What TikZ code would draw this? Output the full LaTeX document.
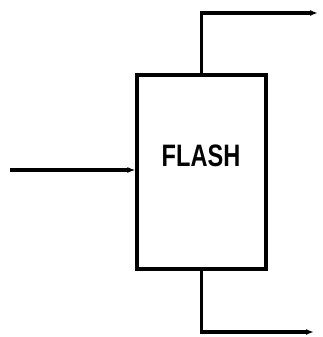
\documentclass[tikz,border=0pt]{standalone}
\usepackage{fontspec}
\setmainfont{Liberation Sans}
\usetikzlibrary{shapes,arrows.meta,positioning,calc}

\begin{document}
\begin{tikzpicture}[x=1pt,y=-1pt,line width=3.2pt,
	unit/.style={draw,rectangle,minimum width=129pt,minimum height=194pt,inner sep=0pt},
	stream/.style={-{Latex[length=8pt,width=6pt]},line width=3.4pt}]
	\useasboundingbox (0,0) rectangle (322,337);
	\node[unit] (flash) at (201.5,172) {}; % Drum
	\node at (201,156) {\fontsize{31}{31}\selectfont\bfseries\scalebox{0.76}[1]{FLASH}};
	\coordinate (feed) at (10,170); % Feed
	\coordinate (vap) at (318,13); % Vapour
	\coordinate (liq) at (314,332); % Liquid
	\draw[stream] (feed) -- (feed -| flash.west);
	\draw[stream] (flash.north) |- (vap);
	\draw[stream] (flash.south) |- (liq);
\end{tikzpicture}
\end{document}
